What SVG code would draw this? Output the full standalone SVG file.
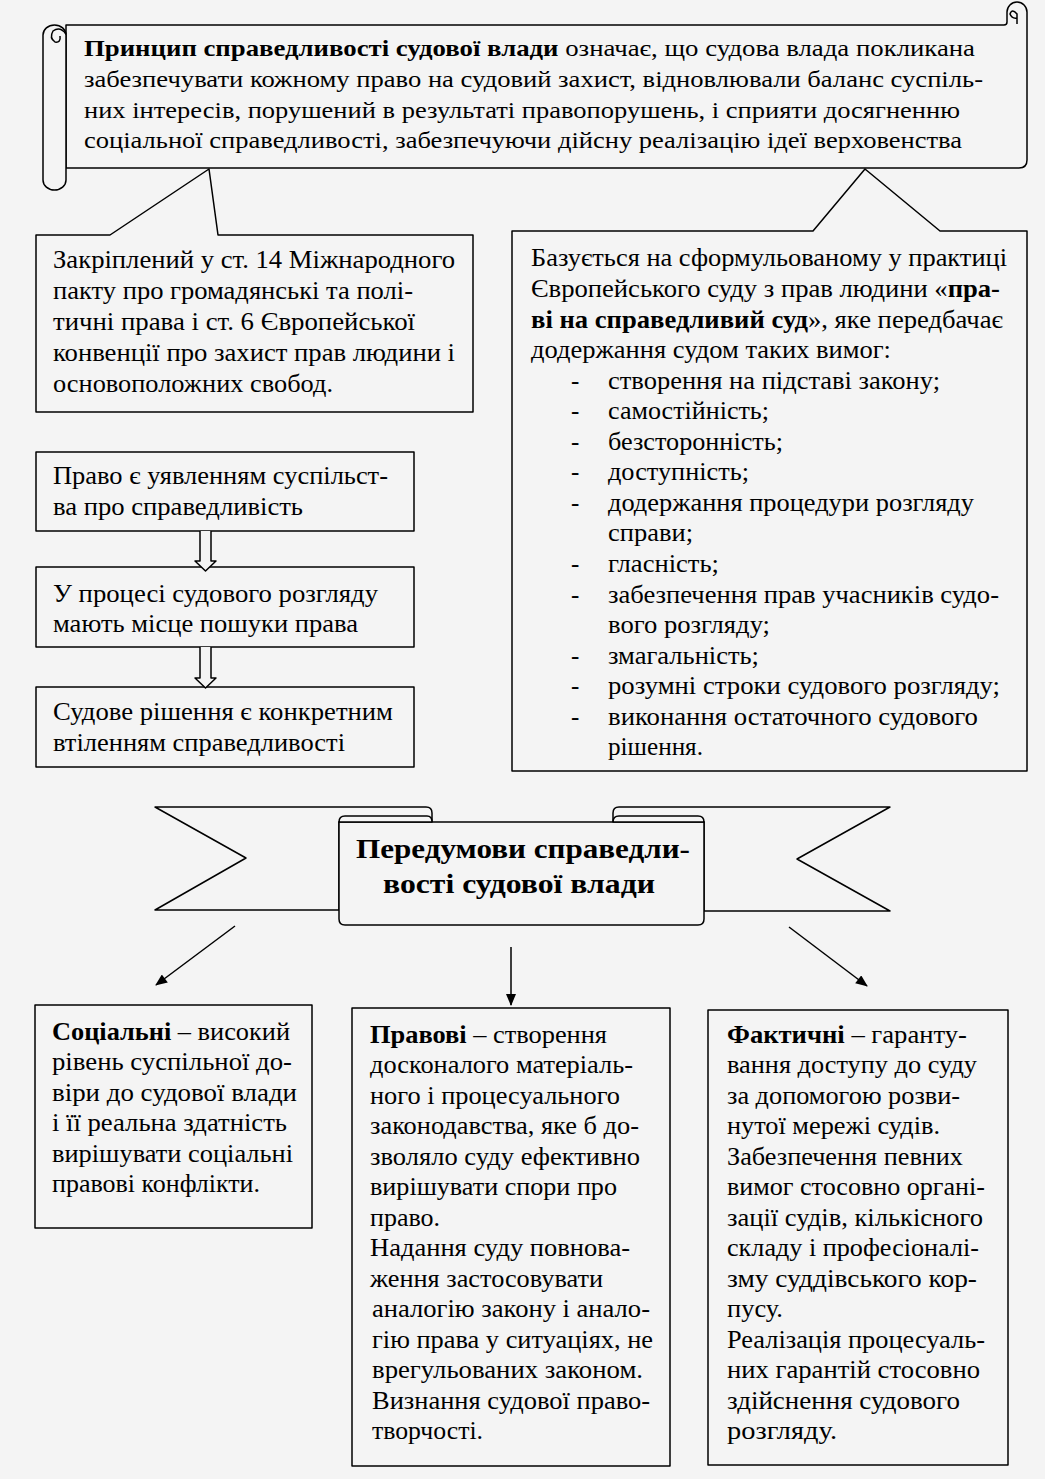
<svg xmlns="http://www.w3.org/2000/svg" width="1045" height="1479" viewBox="0 0 1045 1479">
<style>
.t{font-family:"Liberation Serif","Times New Roman",serif;font-size:25px;fill:#000}
.s{font-size:24px}
.b{font-weight:bold}
.bx{fill:#f4f4f4;stroke:#000;stroke-width:1.5;stroke-linejoin:round}
.ln{fill:none;stroke:#000;stroke-width:1.5}
.hd{font-family:"Liberation Serif","Times New Roman",serif;font-size:28px;font-weight:bold;fill:#000}
</style>
<defs>
<marker id="ah" viewBox="0 0 12 10" refX="11" refY="5" markerWidth="13" markerHeight="10" markerUnits="userSpaceOnUse" orient="auto">
<path d="M0,0 L12,5 L0,10 Z" fill="#000"/>
</marker>
</defs>
<rect x="0" y="0" width="1045" height="1479" fill="#f4f4f4"/>

<g id="scroll-principle">
<path class="bx" d="M66,25 L1004,25 Q1007,25 1007,22 L1007,12 A10,10 0 0 1 1027,12 L1027,160 Q1027,168 1019,168 L66,168 Z"/>
<path class="ln" d="M1017,24 L1017,14 Q1012,8 1010,14 Q1012,19 1017,18"/>
<rect class="bx" x="43" y="25" width="23" height="165" rx="11.5" ry="10"/>
<path class="ln" d="M66,34 Q60,26 53,31 Q49,38 55,42 Q61,43 60,36"/>
<text class="t s" x="84" y="56" textLength="891" lengthAdjust="spacingAndGlyphs"><tspan class="b">Принцип справедливості судової влади</tspan> означає, що судова влада покликана</text>
<text class="t s" x="84" y="87" textLength="899" lengthAdjust="spacingAndGlyphs">забезпечувати кожному право на судовий захист, відновлювали баланс суспіль-</text>
<text class="t s" x="84" y="118" textLength="876" lengthAdjust="spacingAndGlyphs">них інтересів, порушений в результаті правопорушень, і сприяти досягненню</text>
<text class="t s" x="84" y="148" textLength="878" lengthAdjust="spacingAndGlyphs">соціальної справедливості, забезпечуючи дійсну реалізацію ідеї верховенства</text>
</g>

<g id="box-zakriplenyi">
<path class="bx" d="M36,235 L110,235 L209,169 L218,235 L473,235 L473,412 L36,412 Z"/>
<text class="t" x="53" y="268" textLength="402" lengthAdjust="spacingAndGlyphs">Закріплений у ст. 14 Міжнародного</text>
<text class="t" x="53" y="299" textLength="360" lengthAdjust="spacingAndGlyphs">пакту про громадянські та полі-</text>
<text class="t" x="53" y="330" textLength="362" lengthAdjust="spacingAndGlyphs">тичні права і ст. 6 Європейської</text>
<text class="t" x="53" y="361" textLength="402" lengthAdjust="spacingAndGlyphs">конвенції про захист прав людини і</text>
<text class="t" x="53" y="392" textLength="280" lengthAdjust="spacingAndGlyphs">основоположних свобод.</text>
</g>

<g id="box-bazuietsia">
<path class="bx" d="M512,231 L813,231 L865,169 L940,231 L1027,231 L1027,771 L512,771 Z"/>
<text class="t" x="531" y="266" textLength="476" lengthAdjust="spacingAndGlyphs">Базується на сформульованому у практиці</text>
<text class="t" x="531" y="297" textLength="469" lengthAdjust="spacingAndGlyphs">Європейського суду з прав людини «<tspan class="b">пра-</tspan></text>
<text class="t" x="531" y="328" textLength="472" lengthAdjust="spacingAndGlyphs"><tspan class="b">ві на справедливий суд</tspan>», яке передбачає</text>
<text class="t" x="531" y="358" textLength="360" lengthAdjust="spacingAndGlyphs">додержання судом таких вимог:</text>
<text class="t" x="571" y="389">-</text><text class="t" x="608" y="389" textLength="332" lengthAdjust="spacingAndGlyphs">створення на підставі закону;</text>
<text class="t" x="571" y="419">-</text><text class="t" x="608" y="419" textLength="161" lengthAdjust="spacingAndGlyphs">самостійність;</text>
<text class="t" x="571" y="450">-</text><text class="t" x="608" y="450" textLength="175" lengthAdjust="spacingAndGlyphs">безсторонність;</text>
<text class="t" x="571" y="480">-</text><text class="t" x="608" y="480" textLength="141" lengthAdjust="spacingAndGlyphs">доступність;</text>
<text class="t" x="571" y="511">-</text><text class="t" x="608" y="511" textLength="366" lengthAdjust="spacingAndGlyphs">додержання процедури розгляду</text>
<text class="t" x="608" y="541" textLength="85" lengthAdjust="spacingAndGlyphs">справи;</text>
<text class="t" x="571" y="572">-</text><text class="t" x="608" y="572" textLength="111" lengthAdjust="spacingAndGlyphs">гласність;</text>
<text class="t" x="571" y="603">-</text><text class="t" x="608" y="603" textLength="391" lengthAdjust="spacingAndGlyphs">забезпечення прав учасників судо-</text>
<text class="t" x="608" y="633" textLength="162" lengthAdjust="spacingAndGlyphs">вого розгляду;</text>
<text class="t" x="571" y="664">-</text><text class="t" x="608" y="664" textLength="151" lengthAdjust="spacingAndGlyphs">змагальність;</text>
<text class="t" x="571" y="694">-</text><text class="t" x="608" y="694" textLength="392" lengthAdjust="spacingAndGlyphs">розумні строки судового розгляду;</text>
<text class="t" x="571" y="725">-</text><text class="t" x="608" y="725" textLength="370" lengthAdjust="spacingAndGlyphs">виконання остаточного судового</text>
<text class="t" x="608" y="755" textLength="95" lengthAdjust="spacingAndGlyphs">рішення.</text>
</g>

<g id="box-pravo">
<rect class="bx" x="36" y="452" width="378" height="79"/>
<text class="t" x="53" y="484" textLength="335" lengthAdjust="spacingAndGlyphs">Право є уявленням суспільст-</text>
<text class="t" x="53" y="515" textLength="250" lengthAdjust="spacingAndGlyphs">ва про справедливість</text>
</g>

<g id="box-protses">
<rect class="bx" x="36" y="567" width="378" height="80"/>
<text class="t" x="53" y="602" textLength="325" lengthAdjust="spacingAndGlyphs">У процесі судового розгляду</text>
<text class="t" x="53" y="632" textLength="305" lengthAdjust="spacingAndGlyphs">мають місце пошуки права</text>
</g>

<g id="box-rishennia">
<rect class="bx" x="36" y="687" width="378" height="80"/>
<text class="t" x="53" y="720" textLength="340" lengthAdjust="spacingAndGlyphs">Судове рішення є конкретним</text>
<text class="t" x="53" y="751" textLength="292" lengthAdjust="spacingAndGlyphs">втіленням справедливості</text>
</g>

<g id="banner">
<path class="bx" d="M339,910 L155,910 L246,858 L155,807 L426,807 Q432,807 432,813 L432,822 L339,822 Z"/>
<path class="bx" d="M704,911 L890,911 L797,859 L890,807 L619,807 Q613,807 613,813 L613,822 L704,822 Z"/>
<path class="bx" d="M339,822 L704,822 L704,919 Q704,925 698,925 L345,925 Q339,925 339,919 Z"/>
<path class="bx" d="M339,822 Q339,816 345,816 L427,816 Q432,816 432,822 Z"/>
<path class="bx" d="M613,822 Q613,816 619,816 L698,816 Q704,816 704,822 Z"/>
<text class="hd" x="356" y="858" textLength="334" lengthAdjust="spacingAndGlyphs">Передумови справедли-</text>
<text class="hd" x="383" y="893" textLength="272" lengthAdjust="spacingAndGlyphs">вості судової влади</text>
</g>

<g id="connectors">
<path class="bx" d="M200,531 L200,561 L195,561 L205.5,571 L216,561 L211,561 L211,531"/>
<path class="bx" d="M200,647 L200,678 L195,678 L205.5,688 L216,678 L211,678 L211,647"/>
<line class="ln" x1="235" y1="926" x2="156" y2="985" marker-end="url(#ah)"/>
<line class="ln" x1="511" y1="947" x2="511" y2="1005" marker-end="url(#ah)"/>
<line class="ln" x1="789" y1="927" x2="867" y2="986" marker-end="url(#ah)"/>
</g>

<g id="box-sotsialni">
<rect class="bx" x="35" y="1005" width="277" height="223"/>
<text class="t" x="52" y="1040" textLength="238" lengthAdjust="spacingAndGlyphs"><tspan class="b">Соціальні</tspan> – високий</text>
<text class="t" x="52" y="1070" textLength="240" lengthAdjust="spacingAndGlyphs">рівень суспільної до-</text>
<text class="t" x="52" y="1101" textLength="245" lengthAdjust="spacingAndGlyphs">віри до судової влади</text>
<text class="t" x="52" y="1131" textLength="235" lengthAdjust="spacingAndGlyphs">і її реальна здатність</text>
<text class="t" x="52" y="1162" textLength="241" lengthAdjust="spacingAndGlyphs">вирішувати соціальні</text>
<text class="t" x="52" y="1192" textLength="208" lengthAdjust="spacingAndGlyphs">правові конфлікти.</text>
</g>

<g id="box-pravovi">
<rect class="bx" x="352" y="1008" width="318" height="458"/>
<text class="t" x="370" y="1043" textLength="237" lengthAdjust="spacingAndGlyphs"><tspan class="b">Правові</tspan> – створення</text>
<text class="t" x="370" y="1073" textLength="263" lengthAdjust="spacingAndGlyphs">досконалого матеріаль-</text>
<text class="t" x="370" y="1104" textLength="250" lengthAdjust="spacingAndGlyphs">ного і процесуального</text>
<text class="t" x="370" y="1134" textLength="269" lengthAdjust="spacingAndGlyphs">законодавства, яке б до-</text>
<text class="t" x="370" y="1165" textLength="270" lengthAdjust="spacingAndGlyphs">зволяло суду ефективно</text>
<text class="t" x="370" y="1195" textLength="247" lengthAdjust="spacingAndGlyphs">вирішувати спори про</text>
<text class="t" x="370" y="1226" textLength="70" lengthAdjust="spacingAndGlyphs">право.</text>
<text class="t" x="370" y="1256" textLength="260" lengthAdjust="spacingAndGlyphs">Надання суду повнова-</text>
<text class="t" x="370" y="1287" textLength="233" lengthAdjust="spacingAndGlyphs">ження застосовувати</text>
<text class="t" x="372" y="1317" textLength="278" lengthAdjust="spacingAndGlyphs">аналогію закону і анало-</text>
<text class="t" x="372" y="1348" textLength="281" lengthAdjust="spacingAndGlyphs">гію права у ситуаціях, не</text>
<text class="t" x="372" y="1378" textLength="271" lengthAdjust="spacingAndGlyphs">врегульованих законом.</text>
<text class="t" x="372" y="1409" textLength="278" lengthAdjust="spacingAndGlyphs">Визнання судової право-</text>
<text class="t" x="372" y="1439" textLength="111" lengthAdjust="spacingAndGlyphs">творчості.</text>
</g>

<g id="box-faktychni">
<rect class="bx" x="708" y="1010" width="300" height="455"/>
<text class="t" x="727" y="1043" textLength="240" lengthAdjust="spacingAndGlyphs"><tspan class="b">Фактичні</tspan> – гаранту-</text>
<text class="t" x="727" y="1073" textLength="250" lengthAdjust="spacingAndGlyphs">вання доступу до суду</text>
<text class="t" x="727" y="1104" textLength="233" lengthAdjust="spacingAndGlyphs">за допомогою розви-</text>
<text class="t" x="727" y="1134" textLength="213" lengthAdjust="spacingAndGlyphs">нутої мережі судів.</text>
<text class="t" x="727" y="1165" textLength="236" lengthAdjust="spacingAndGlyphs">Забезпечення певних</text>
<text class="t" x="727" y="1195" textLength="258" lengthAdjust="spacingAndGlyphs">вимог стосовно органі-</text>
<text class="t" x="727" y="1226" textLength="256" lengthAdjust="spacingAndGlyphs">зації судів, кількісного</text>
<text class="t" x="727" y="1256" textLength="252" lengthAdjust="spacingAndGlyphs">складу і професіоналі-</text>
<text class="t" x="727" y="1287" textLength="250" lengthAdjust="spacingAndGlyphs">зму суддівського кор-</text>
<text class="t" x="727" y="1317" textLength="56" lengthAdjust="spacingAndGlyphs">пусу.</text>
<text class="t" x="727" y="1348" textLength="258" lengthAdjust="spacingAndGlyphs">Реалізація процесуаль-</text>
<text class="t" x="727" y="1378" textLength="253" lengthAdjust="spacingAndGlyphs">них гарантій стосовно</text>
<text class="t" x="727" y="1409" textLength="233" lengthAdjust="spacingAndGlyphs">здійснення судового</text>
<text class="t" x="727" y="1439" textLength="110" lengthAdjust="spacingAndGlyphs">розгляду.</text>
</g>
</svg>
